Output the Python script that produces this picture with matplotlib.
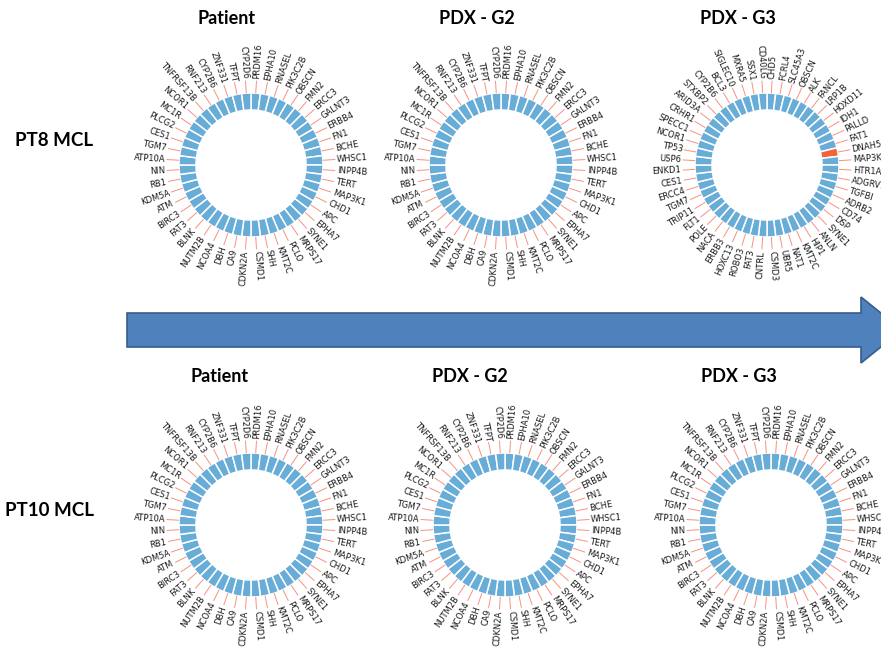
import numpy as np
import matplotlib.pyplot as plt
from matplotlib.patches import Polygon

W, H = 881, 652

# genes on the rings, clockwise from the top
genes_base = [
    "PRDM16", "EPHA10", "RNASEL", "PIK3C2B", "OBSCN", "FMN2", "ERCC3", "GALNT3",
    "ERBB4", "FN1", "BCHE", "WHSC1", "INPP4B", "TERT", "MAP3K1", "CHD1", "APC",
    "EPHA7", "SYNE1", "MRPS17", "PCLO", "KMT2C", "SHH", "CSMD1", "CDKN2A", "CA9",
    "DBH", "NCOA4", "NUTM2B", "BLNK", "FAT3", "BIRC3", "ATM", "KDM5A", "RB1", "NIN",
    "ATP10A", "TGM7", "CES1", "PLCG2", "MC1R", "NCOR1", "TNFRSF13B", "RNF213",
    "CYP2B6", "ZNF331", "TFPT", "CYP2D6",
]
genes_pt8_g3 = [
    "CHD5", "FCRL4", "SLC45A3", "OBSCN", "ALK", "FANCL", "LRP1B", "HOXD11", "IDH1",
    "PALLD", "FAT1", "DNAH5", "MAP3K1", "HTR1A", "ADGRV1", "TGFBI", "ADRB2", "CD74",
    "DSP", "SYNE1", "ANLN", "HIP1", "KMT2C", "NAT1", "UBR5", "CSMD3", "CNTRL", "FAT3",
    "ROBO3", "HOXC13", "ERBB3", "NACA", "POLE", "FLT1", "TRIP11", "TGM7", "ERCC4",
    "CES1", "ENKD1", "USP6", "TP53", "NCOR1", "SPECC1", "CRHR1", "ARID3A", "STXBP2",
    "CYP2B6", "BCL3", "SIGLEC10", "MXRA5", "SSX1", "CD40LG",
]
altered_pt8_g3 = ["DNAH5"]

row_labels = ["PT8 MCL", "PT10 MCL"]
col_labels = ["Patient", "PDX - G2", "PDX - G3"]

panel_genes = [
    [genes_base, genes_base, genes_pt8_g3],
    [genes_base, genes_base, genes_base],
]
panel_altered = [
    [[], [], altered_pt8_g3],
    [[], [], []],
]

blue = "#68acd8"
red = "#f4623a"
line_col = "#f9907f"

# ring centres (pixels) and header positions
ring_x = [[251, 501, 767], [251, 505, 771]]
ring_y = [165, 525]
title_x = [[227, 477, 738], [220, 470, 739]]
title_y = [18, 377]
row_y = [141, 511]
row_x = [15, 5]

fig = plt.figure(figsize=(W / 100, H / 100), dpi=100)
bg = fig.add_axes([0, 0, 1, 1])
bg.set_xlim(0, W)
bg.set_ylim(H, 0)
bg.set_axis_off()


def draw_ring(cx, cy, genes, altered):
    ax = fig.add_axes([(cx - 100) / W, (H - cy - 100) / H, 200 / W, 200 / H],
                      projection="polar")
    n = len(genes)
    theta = (np.arange(n) + 0.5) * 2 * np.pi / n
    colors = [red if g in altered else blue for g in genes]
    ax.bar(theta, 17, width=2 * np.pi / n, bottom=55, color=colors,
           edgecolor="white", linewidth=1.1)
    for t, g in zip(theta, genes):
        ax.plot([t, t], [72.5, 84], color=line_col, lw=0.7)
        ang = (90 - np.degrees(t)) % 360
        if 90 < ang < 270:
            rot = ang + 180
            ha = "right"
        else:
            rot = ang
            ha = "left"
        ax.text(t, 86, g, rotation=rot, rotation_mode="anchor", ha=ha,
                va="center", fontsize=6.0, color="#1a1a1a")
    ax.set_theta_zero_location("N")
    ax.set_theta_direction(-1)
    ax.set_ylim(0, 100)
    ax.set_axis_off()


for r in range(2):
    bg.text(row_x[r], row_y[r], row_labels[r], ha="left", va="center",
            fontsize=13.5, fontweight="bold", family="Lato", color="black")
    for c in range(3):
        bg.text(title_x[r][c], title_y[r], col_labels[c], ha="center", va="center",
                fontsize=13, fontweight="bold", family="Lato", color="black")
        draw_ring(ring_x[r][c], ring_y[r], panel_genes[r][c], panel_altered[r][c])

# timeline arrow between the rows
arrow = Polygon([(127, 313), (861, 313), (861, 297), (902, 330), (861, 363),
                 (861, 347), (127, 347)], closed=True, facecolor="#4f81bd",
                edgecolor="#385d8a", linewidth=1.2)
bg.add_patch(arrow)

fig.savefig("out.png", dpi=100)
plt.close(fig)
